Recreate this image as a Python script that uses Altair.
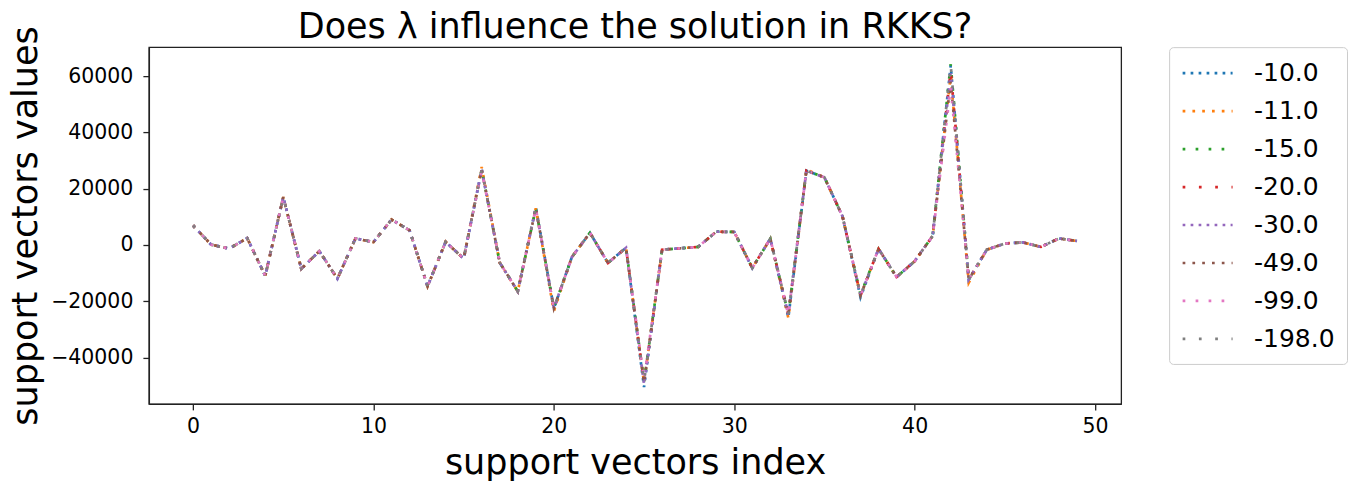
import altair as alt
import pandas as pd

# ---- data ----
lambdas = ["-10.0", "-11.0", "-15.0", "-20.0", "-30.0", "-49.0", "-99.0", "-198.0"]
colors = ["#1f77b4", "#ff7f0e", "#2ca02c", "#d62728",
          "#9467bd", "#8c564b", "#e377c2", "#7f7f7f"]
dashes = [[2.7, 5.3], [2.7, 7.1], [2.7, 10.3], [2.7, 13.6],
          [2.7, 5.3], [2.7, 7.1], [2.7, 10.3], [2.7, 13.6]]

index = list(range(50))
base_values = [6900, 100, -1300, 2400, -11000, 17000, -8500, -2200, -12000, 2300,
               1000, 9000, 5200, -14700, 1100, -4900, 26800, -6300, -16500, 13000,
               -22500, -4300, 4300, -6400, -1000, -49000, -1700, -1200, -700, 4700,
               4600, -8200, 2200, -24800, 26400, 24000, 10200, -18000, -1400, -11400,
               -5800, 3200, 63500, -12300, -1700, 500, 900, -700, 2300, 1400]

# small per-series differences visible at the peaks (index: value)
overrides = {
    "-10.0": {25: -50500, 37: -18600, 42: 63800, 33: -25800, 19: 13400},
    "-11.0": {16: 27700, 20: -23600, 33: -26000, 43: -13400, 42: 60000, 34: 26800},
    "-15.0": {25: -48600, 42: 64300, 37: -17600},
    "-20.0": {42: 62000, 20: -22800},
    "-30.0": {42: 61000, 25: -49500},
    "-49.0": {42: 58000, 33: -24500},
    "-99.0": {42: 56000, 16: 26300, 25: -47800},
    "-198.0": {42: 64000, 25: -48500},
}

rows = []
for lam in lambdas:
    for i, v in zip(index, base_values):
        rows.append({"idx": i, "value": overrides[lam].get(i, v), "lam": lam})
df = pd.DataFrame(rows)

font = "DejaVu Sans"

legend = alt.Legend(
    title=None, orient="right", offset=48, padding=12,
    strokeColor="#cccccc", cornerRadius=4, fillColor="white",
    labelFontSize=25, labelFont=font, labelColor="black",
    symbolType="M-1,0H3", symbolSize=625, symbolStrokeWidth=2.7,
    rowPadding=11, labelOffset=45, symbolOpacity=1,
)

chart = alt.Chart(df).mark_line(strokeWidth=2.7).encode(
    x=alt.X("idx:Q", scale=alt.Scale(domain=[-2.45, 51.45], nice=False, zero=False),
            axis=alt.Axis(values=[0, 10, 20, 30, 40, 50], format="d",
                          title="support vectors index")),
    y=alt.Y("value:Q", scale=alt.Scale(domain=[-56500, 70300], nice=False, zero=False),
            axis=alt.Axis(values=[-40000, -20000, 0, 20000, 40000, 60000], format="d",
                          title="support vectors values")),
    color=alt.Color("lam:N", scale=alt.Scale(domain=lambdas, range=colors), legend=legend),
    strokeDash=alt.StrokeDash("lam:N", scale=alt.Scale(domain=lambdas, range=dashes), legend=legend),
    order=alt.Order("idx:Q"),
).properties(
    width=973, height=357,
    title=alt.TitleParams("Does λ influence the solution in RKKS?", fontSize=35,
                          font=font, fontWeight="normal", color="black", offset=5,
                          frame="group", anchor="middle", dy=24),
    autosize=alt.AutoSizeParams(type="none"),
    padding={"left": 141, "top": 39, "right": 230, "bottom": 87},
).configure_view(
    stroke="#222222", strokeWidth=1.3
).configure_axis(
    grid=False, domainColor="#222222", domainWidth=1.3,
    tickColor="#222222", tickWidth=1.3, tickSize=6,
    labelFont=font, labelFontSize=20.5, labelColor="black",
    titleFont=font, titleFontSize=35, titleFontWeight="normal", titleColor="black",
).configure_axisX(titlePadding=8, labelPadding=7).configure_axisY(titlePadding=7, labelPadding=10)

chart.save("out.html", embed_options={"renderer": "svg", "actions": False})
